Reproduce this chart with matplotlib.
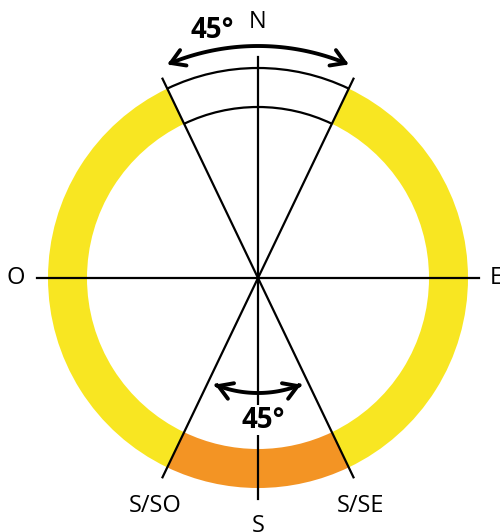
import matplotlib
matplotlib.use("Agg")
import matplotlib.pyplot as plt
import numpy as np
from matplotlib.patches import Wedge, Arc, FancyArrowPatch
from matplotlib.path import Path

plt.rcParams['font.family'] = ['Open Sans', 'DejaVu Sans']

# geometry (pixels, centre of the compass at 0,0)
r_inner = 171
r_outer = 210
line_len = 221
half_angle = 25.6          # half-opening of the N and S sectors, degrees from vertical
top_arrow_r, top_arrow_half = 232, 23
bot_arrow_r, bot_arrow_half = 115, 22

# labels
cardinals = ['N', 'S', 'O', 'E']
cardinal_angles = [90, 270, 180, 0]
cardinal_r = [256, 248, 242, 238]
sector_labels = ['S/SO', 'S/SE']
sector_pos = [(-103, -228), (103, -228)]
angle_text = '45°'

yellow = '#F8E622'
orange = '#F39424'

fig = plt.figure(figsize=(5, 5.32), dpi=100)
ax = fig.add_axes([0, 0, 1, 1])
ax.set_xlim(-258, 242)
ax.set_ylim(-254, 278)
ax.set_aspect('equal')
ax.axis('off')

w = r_outer - r_inner
ax.add_patch(Wedge((0, 0), r_outer, 90 + half_angle, 270 - half_angle, width=w, color=yellow, lw=0))
ax.add_patch(Wedge((0, 0), r_outer, -90 + half_angle, 90 - half_angle, width=w, color=yellow, lw=0))
ax.add_patch(Wedge((0, 0), r_outer, 270 - half_angle, 270 + half_angle, width=w, color=orange, lw=0))
for r in [r_inner, r_outer]:
    ax.add_patch(Arc((0, 0), 2 * r, 2 * r, theta1=90 - half_angle, theta2=90 + half_angle,
                     color='black', lw=1.6))

# axes lines
ax.plot([0, 0], [-line_len, line_len], color='black', lw=1.6)
ax.plot([-line_len, line_len], [0, 0], color='black', lw=1.6)
for a in [half_angle, -half_angle]:
    t = np.radians(90 + a)
    ax.plot([-line_len * np.cos(t), line_len * np.cos(t)],
            [-line_len * np.sin(t), line_len * np.sin(t)], color='black', lw=1.6)

# curved double arrows
def arc_arrow(r, centre_deg, half):
    t = np.radians(np.linspace(centre_deg - half, centre_deg + half, 60))
    verts = np.column_stack([r * np.cos(t), r * np.sin(t)])
    p = FancyArrowPatch(path=Path(verts), arrowstyle='<->,head_length=0.65,head_width=0.4',
                        mutation_scale=15, color='black', lw=2.8)
    ax.add_patch(p)

arc_arrow(top_arrow_r, 90, top_arrow_half)
arc_arrow(bot_arrow_r, 270, bot_arrow_half)

ax.text(-45.5, 248, angle_text, fontsize=20, fontweight='bold', ha='center', va='center')
ax.text(5, -142, angle_text, fontsize=20, fontweight='bold', ha='center', va='center',
        bbox=dict(facecolor='white', edgecolor='none', pad=0.5))

for lab, ang, r in zip(cardinals, cardinal_angles, cardinal_r):
    t = np.radians(ang)
    ax.text(r * np.cos(t), r * np.sin(t), lab, fontsize=17, ha='center', va='center')
for lab, (x, y) in zip(sector_labels, sector_pos):
    ax.text(x, y, lab, fontsize=17, ha='center', va='center')

fig.savefig('out.png', dpi=100)
